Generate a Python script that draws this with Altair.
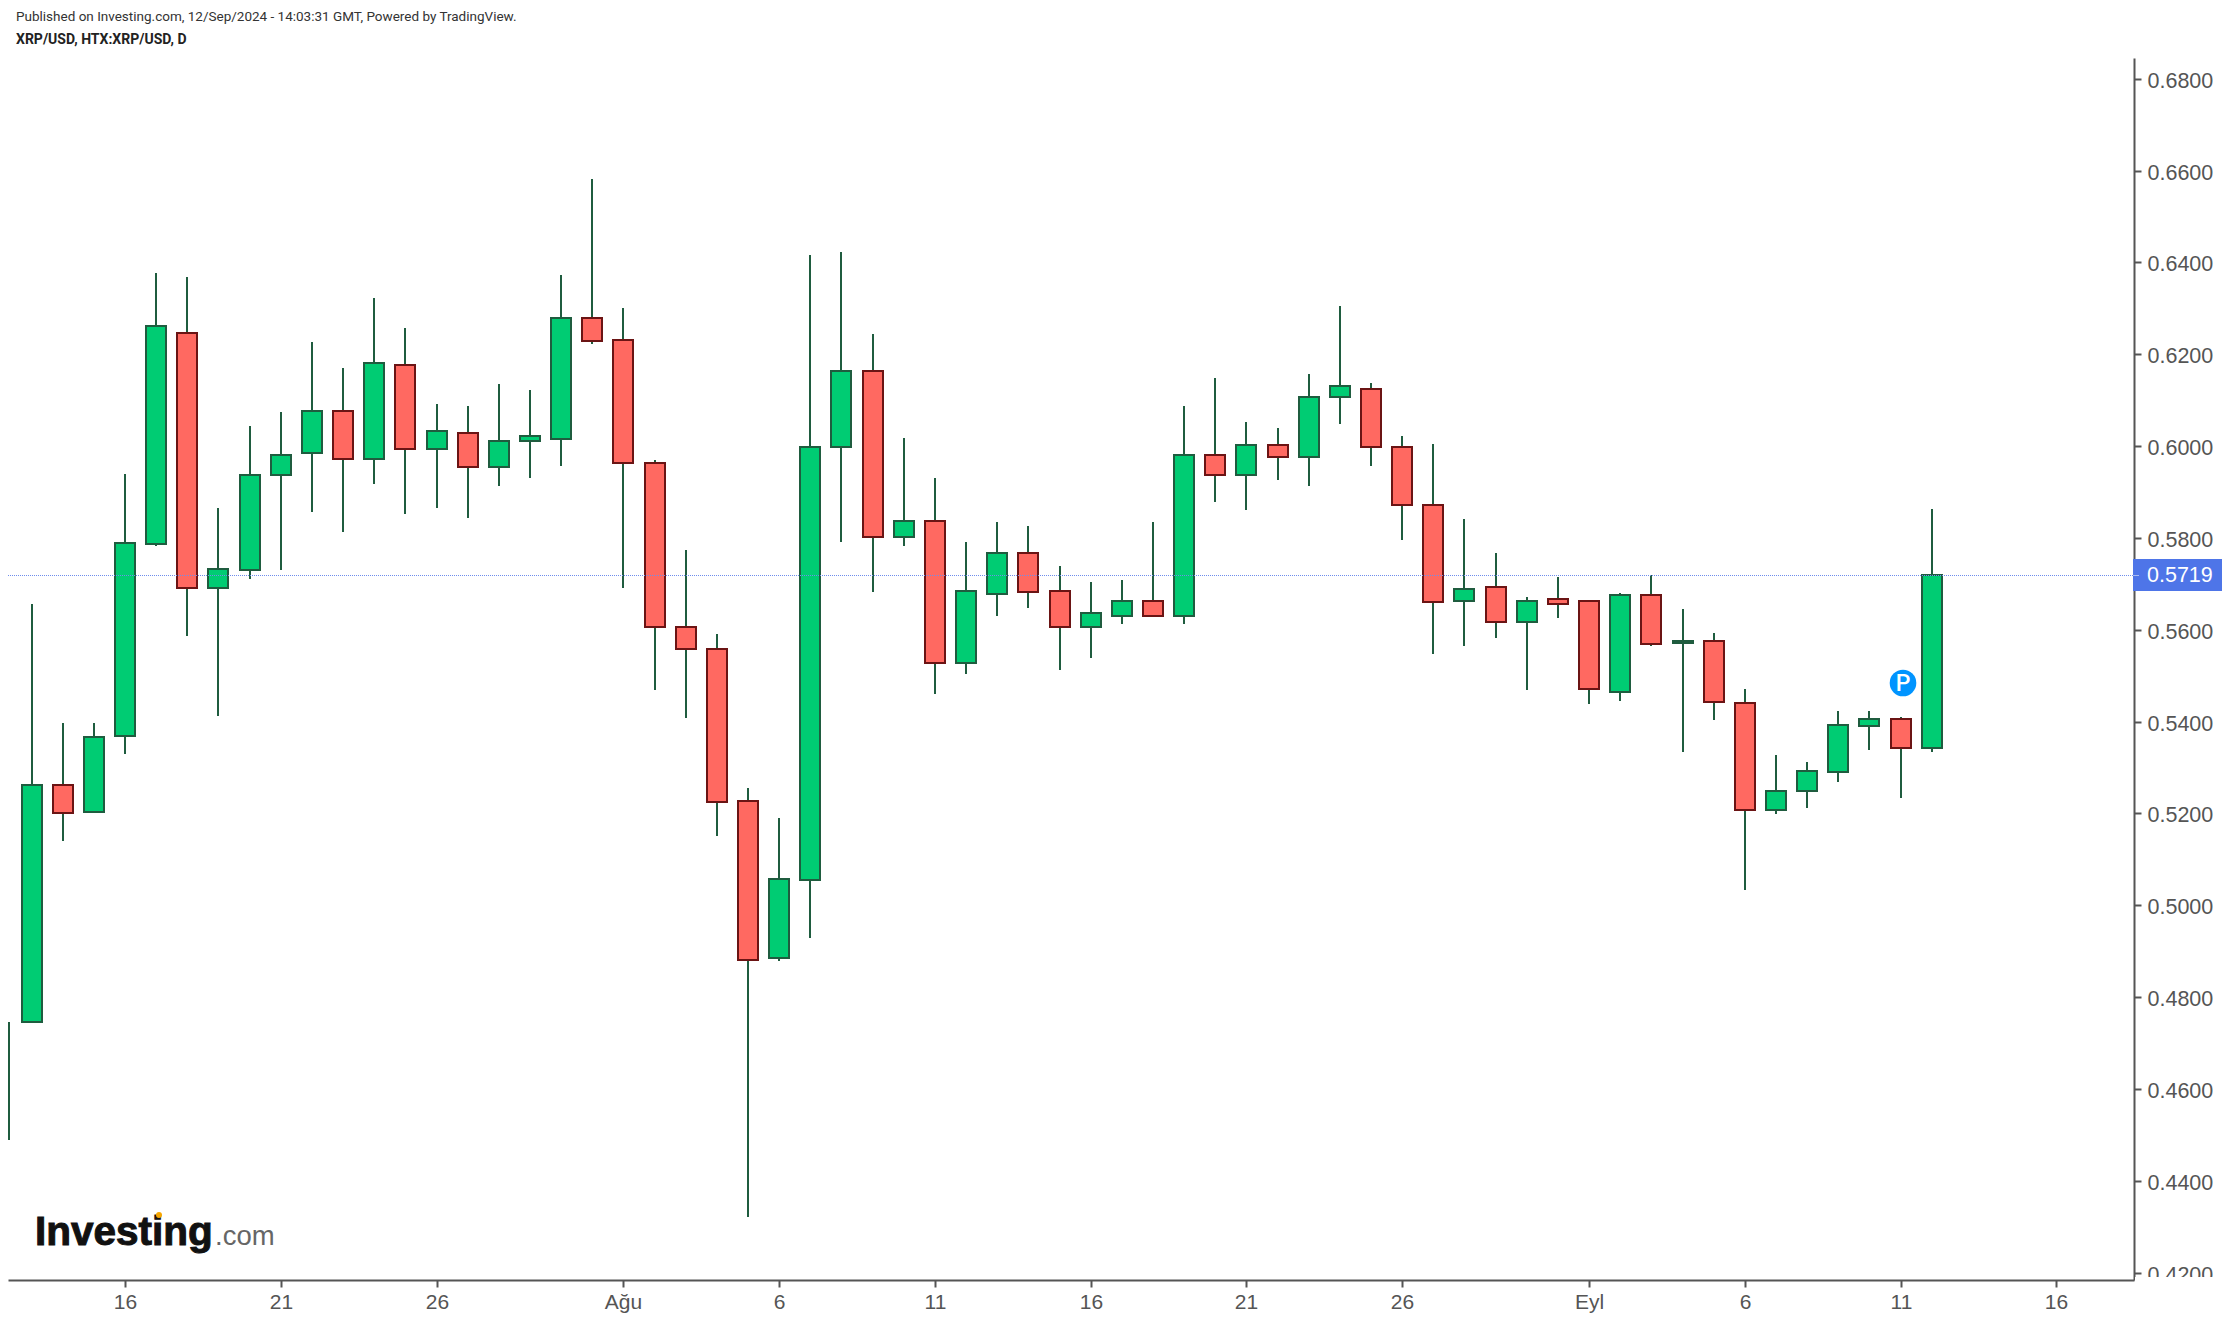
import altair as alt
import pandas as pd

# Day index: 0 = 16 Jul 2024, one candle per calendar day, -3 = 13 Jul, 58 = 12 Sep
days = list(range(-3, 59))
opens = [
    .4745, .5261, .5204, .5369, .5787, .6247, .5692, .5731, .5936, .5984,
    .6077, .5972, .6177, .5994, .6029, .5955, .6010, .6016, .6278, .6230,
    .5963, .5606, .5559, .5227, .4885, .5056, .5998, .6164, .5801, .5837,
    .5527, .5679, .5767, .5685, .5605, .5631, .5663, .5631, .5981, .5936,
    .6003, .5976, .6107, .6125, .5998, .5872, .5662, .5693, .5618, .5667,
    .5662, .5465, .5675, .5572, .5575, .5440, .5208, .5248, .5291, .5391,
    .5405, .5343,
]
closes = [
    .5261, .5200, .5367, .5790, .6261, .5692, .5733, .5938, .5981, .6077,
    .5972, .6181, .5994, .6033, .5955, .6012, .6021, .6278, .6228, .5963,
    .5606, .5558, .5225, .4880, .5058, .5999, .6164, .5801, .5837, .5527,
    .5685, .5767, .5683, .5605, .5636, .5663, .5631, .5981, .5936, .6003,
    .5976, .6107, .6130, .5998, .5871, .5661, .5688, .5618, .5662, .5656,
    .5470, .5675, .5569, .5576, .5443, .5208, .5248, .5292, .5392, .5405,
    .5343, .5719,
]
highs = [
    .5656, .5398, .5398, .5939, .6376, .6368, .5865, .6044, .6074, .6227,
    .6170, .6323, .6258, .6092, .6087, .6135, .6122, .6372, .6582, .6301,
    .5969, .5773, .5590, .5255, .5190, .6416, .6423, .6244, .6018, .5931,
    .5791, .5834, .5826, .5738, .5703, .5708, .5834, .6087, .6149, .6052,
    .6040, .6157, .6305, .6138, .6022, .6004, .5842, .5768, .5672, .5716,
    .5662, .5681, .5720, .5646, .5593, .5471, .5328, .5311, .5424, .5424,
    .5410, .5864,
]
lows = [
    .4745, .5139, .5204, .5329, .5783, .5587, .5412, .5710, .5731, .5857,
    .5813, .5918, .5853, .5866, .5844, .5914, .5931, .5957, .6223, .5692,
    .5469, .5408, .5151, .4322, .4878, .4929, .5791, .5682, .5782, .5460,
    .5503, .5629, .5648, .5513, .5539, .5612, .5631, .5612, .5879, .5861,
    .5927, .5914, .6048, .5956, .5796, .5547, .5564, .5582, .5468, .5625,
    .5438, .5446, .5564, .5333, .5403, .5033, .5198, .5211, .5268, .5338,
    .5233, .5333,
]
# The wick cut off at the left edge of the chart, its body is not visible
stray_wick_day = [-3.72]
stray_wick_high = [.4745]
stray_wick_low = [.4488]

last_price = 0.5719
marker_day = 57.07
marker_price = 0.5484

tick_days = [0, 5, 10, 16, 21, 26, 31, 36, 41, 47, 52, 57, 62]
tick_labels = ["16", "21", "26", "Ağu", "6", "11", "16", "21", "26", "Eyl", "6", "11", "16"]
price_ticks = [0.42, 0.44, 0.46, 0.48, 0.50, 0.52, 0.54, 0.56, 0.58, 0.60, 0.62, 0.64, 0.66, 0.68]

title_line = "Published on Investing.com, 12/Sep/2024 - 14:03:31 GMT, Powered by TradingView."
symbol_line = "XRP/USD, HTX:XRP/USD, D"

FONT = "Liberation Sans"
AXIS_COLOR = "#555555"
GREEN = "#00CC73"
RED = "#FF6961"
GREEN_EDGE = "#1F5C3F"
RED_EDGE = "#6B1414"
BLUE = "#4E75E8"

df = pd.DataFrame({"day": days, "open": opens, "close": closes, "high": highs, "low": lows})
df["direction"] = ["up" if c >= o else "down" for o, c in zip(opens, closes)]
df["body_top"] = df[["open", "close"]].max(axis=1)
df["body_bottom"] = df[["open", "close"]].min(axis=1)

x_scale = alt.Scale(domain=[-3.756, 64.494], nice=False, zero=False, round=True, padding=0)
y_scale = alt.Scale(domain=[0.41841, 0.68451], nice=False, zero=False, round=True)

label_map = "{" + ",".join(f"'{d}':'{t}'" for d, t in zip(tick_days, tick_labels)) + "}"
x_axis = alt.Axis(
    values=tick_days, labelExpr=f"{label_map}[datum.value]", title=None, grid=False,
    domainColor=AXIS_COLOR, domainWidth=2, tickColor=AXIS_COLOR, tickWidth=2, tickSize=7,
    labelColor=AXIS_COLOR, labelFont=FONT, labelFontSize=21, labelPadding=4,
    labelFlush=False, labelOverlap=False,
)
y_axis = alt.Axis(
    values=price_ticks, format=".4f", orient="right", title=None, grid=False,
    domainColor=AXIS_COLOR, domainWidth=2, tickColor=AXIS_COLOR, tickWidth=2, tickSize=7,
    labelColor=AXIS_COLOR, labelFont=FONT, labelFontSize=21.5, labelPadding=6, labelOffset=2,
    labelFlush=False, labelOverlap=False,
)

X = alt.X("day:Q", scale=x_scale, axis=x_axis)
Y = alt.Y("high:Q", scale=y_scale, axis=y_axis)

wicks = alt.Chart(df).mark_rule(color=GREEN_EDGE, strokeWidth=2, clip=True).encode(
    x=X, y=Y, y2="low:Q"
)

stray = alt.Chart(pd.DataFrame({"day": stray_wick_day, "high": stray_wick_high, "low": stray_wick_low})).mark_rule(
    color=GREEN_EDGE, strokeWidth=2, clip=True
).encode(
    x=alt.X("day:Q", scale=x_scale), y=alt.Y("high:Q", scale=y_scale), y2="low:Q"
)

bodies = alt.Chart(df).mark_bar(size=20, strokeWidth=2, clip=True).encode(
    x=alt.X("day:Q", scale=x_scale),
    y=alt.Y("body_top:Q", scale=y_scale),
    y2="body_bottom:Q",
    fill=alt.Fill("direction:N", scale=alt.Scale(domain=["up", "down"], range=[GREEN, RED]), legend=None),
    stroke=alt.Stroke("direction:N", scale=alt.Scale(domain=["up", "down"], range=[GREEN_EDGE, RED_EDGE]), legend=None),
)

price_df = pd.DataFrame({"price": [last_price], "label": [f"{last_price:.4f}"],
                         "top": [last_price + 0.00349], "bottom": [last_price - 0.00349]})
price_line = alt.Chart(price_df).mark_rule(color="#6F8DEC", strokeWidth=1, strokeDash=[1, 1], yOffset=0.5).encode(
    y=alt.Y("price:Q", scale=y_scale), x=alt.value(0), x2=alt.value(2125)
)
price_box = alt.Chart(price_df).mark_rect(color=BLUE).encode(
    x=alt.value(2125), x2=alt.value(2215),
    y=alt.Y("top:Q", scale=y_scale), y2="bottom:Q"
)
price_notch = alt.Chart(price_df).mark_rule(color="#A9BBF3", strokeWidth=1, yOffset=0.5).encode(
    y=alt.Y("price:Q", scale=y_scale), x=alt.value(2125), x2=alt.value(2131)
)
price_text = alt.Chart(price_df).mark_text(
    color="white", font=FONT, fontSize=21.5, align="left", baseline="middle", dy=1
).encode(x=alt.value(2139), y=alt.Y("price:Q", scale=y_scale), text="label:N")

marker_df = pd.DataFrame({"day": [marker_day], "price": [marker_price], "label": ["P"]})
marker = alt.Chart(marker_df).mark_point(filled=True, shape="circle", size=707, color="#0094FF", opacity=1).encode(
    x=alt.X("day:Q", scale=x_scale), y=alt.Y("price:Q", scale=y_scale)
)
marker_text = alt.Chart(marker_df).mark_text(
    color="white", font="Roboto", fontSize=23, fontWeight=500, baseline="middle", dy=1
).encode(x=alt.X("day:Q", scale=x_scale), y=alt.Y("price:Q", scale=y_scale), text="label:N")

# Lower part of the bottom price label is cut by the chart's edge in the original
mask = alt.Chart(pd.DataFrame({"m": [0]})).mark_rect(color="white").encode(
    x=alt.value(2127), x2=alt.value(2218), y=alt.value(1219), y2=alt.value(1262)
)


def label(text, x, y, **style):
    return alt.Chart(pd.DataFrame({"t": [text]})).mark_text(align="left", **style).encode(
        x=alt.value(x), y=alt.value(y), text="t:N"
    )


head1 = label(title_line, 8, -41, font="Roboto", fontSize=13.5, color="#333333", baseline="middle")
head2 = label(symbol_line, 8, -18, font="Roboto", fontSize=14, fontWeight="bold", color="#222222", baseline="middle")
logo1 = label("Investing", 27, 1187, font=FONT, fontSize=40.5, fontWeight="bold", color="#111111",
              stroke="#111111", strokeWidth=1, baseline="alphabetic")
logo2 = label(".com", 207, 1187, font=FONT, fontSize=27.5, color="#666666", baseline="alphabetic")
logo_dot = alt.Chart(pd.DataFrame({"m": [0]})).mark_point(filled=True, shape="circle", size=36, color="#F7A600", opacity=1).encode(
    x=alt.value(151), y=alt.value(1157)
)

chart = alt.layer(
    wicks, stray, bodies, price_line, price_box, price_notch, price_text,
    marker, marker_text, mask, head1, head2, logo1, logo2, logo_dot,
).properties(
    width=2126, height=1222,
    autosize=alt.AutoSizeParams(type="none"),
    padding={"left": 0, "top": 50, "right": 88, "bottom": 38},
    background="white",
).configure_view(stroke=None)

chart.save("out.html", embed_options={"renderer": "svg", "actions": False})
